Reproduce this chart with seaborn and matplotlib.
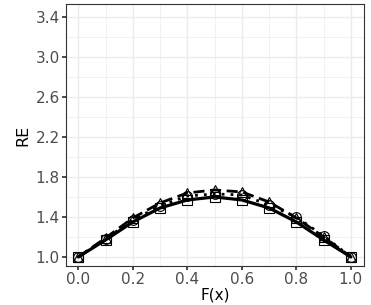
import numpy as np
import pandas as pd
import seaborn as sns
import matplotlib.pyplot as plt

# values
fx = [0.0, 0.1, 0.2, 0.3, 0.4, 0.5, 0.6, 0.7, 0.8, 0.9, 1.0]
re_solid = [1.00, 1.17, 1.35, 1.49, 1.57, 1.60, 1.57, 1.49, 1.35, 1.17, 1.00]
re_dashed = [1.00, 1.19, 1.39, 1.54, 1.64, 1.67, 1.65, 1.55, 1.39, 1.20, 1.00]
re_dotted = [1.00, 1.18, 1.37, 1.51, 1.61, 1.63, 1.62, 1.52, 1.40, 1.21, 1.00]

y_ticks = [1.0, 1.4, 1.8, 2.2, 2.6, 3.0, 3.4]
x_ticks = [0.0, 0.2, 0.4, 0.6, 0.8, 1.0]

df = pd.DataFrame({
    'F(x)': fx * 3,
    'RE': re_solid + re_dashed + re_dotted,
    'series': ['a'] * 11 + ['b'] * 11 + ['c'] * 11,
})

sns.set_theme(style='whitegrid')
plt.rcParams['font.family'] = ['DejaVu Sans']

fig = plt.figure(figsize=(3.71, 3.05), dpi=100)
ax = fig.add_axes([0.178, 0.128, 0.803, 0.859])

styles = {
    'a': dict(linestyle='-', marker='s', linewidth=2.3),
    'b': dict(linestyle=(0, (4, 2)), marker='^', linewidth=2),
    'c': dict(linestyle=(0, (1, 2.2)), marker='o', linewidth=2),
}
for name, st in styles.items():
    sns.lineplot(data=df[df.series == name], x='F(x)', y='RE', ax=ax, color='black',
                 markersize=7, markerfacecolor='none',
                 markeredgecolor='black', markeredgewidth=0.8, **st)

ax.set_xlim(-0.045, 1.048)
ax.set_ylim(0.91, 3.53)
ax.set_xticks(x_ticks)
ax.set_yticks(y_ticks)
ax.set_xticks(np.arange(0.1, 1.0, 0.2), minor=True)
ax.set_yticks(np.arange(1.2, 3.5, 0.4), minor=True)
ax.set_xticklabels([f'{v:.1f}' for v in x_ticks])
ax.set_yticklabels([f'{v:.1f}' for v in y_ticks])
ax.grid(which='major', color='#EBEBEB', linewidth=1.0)
ax.grid(which='minor', color='#EBEBEB', linewidth=0.5)
ax.set_facecolor('white')
for s in ax.spines.values():
    s.set_color('#333333')
    s.set_linewidth(0.8)
ax.tick_params(which='major', length=3, color='#333333', labelsize=11,
               labelcolor='#4D4D4D', pad=1.5, bottom=True, left=True)
ax.tick_params(which='minor', length=0)
ax.set_xlabel('F(x)', fontsize=11, color='black', labelpad=0)
ax.set_ylabel('RE', fontsize=11.5, color='black', labelpad=4)
if ax.get_legend():
    ax.get_legend().remove()

fig.savefig('out.png', dpi=100)
